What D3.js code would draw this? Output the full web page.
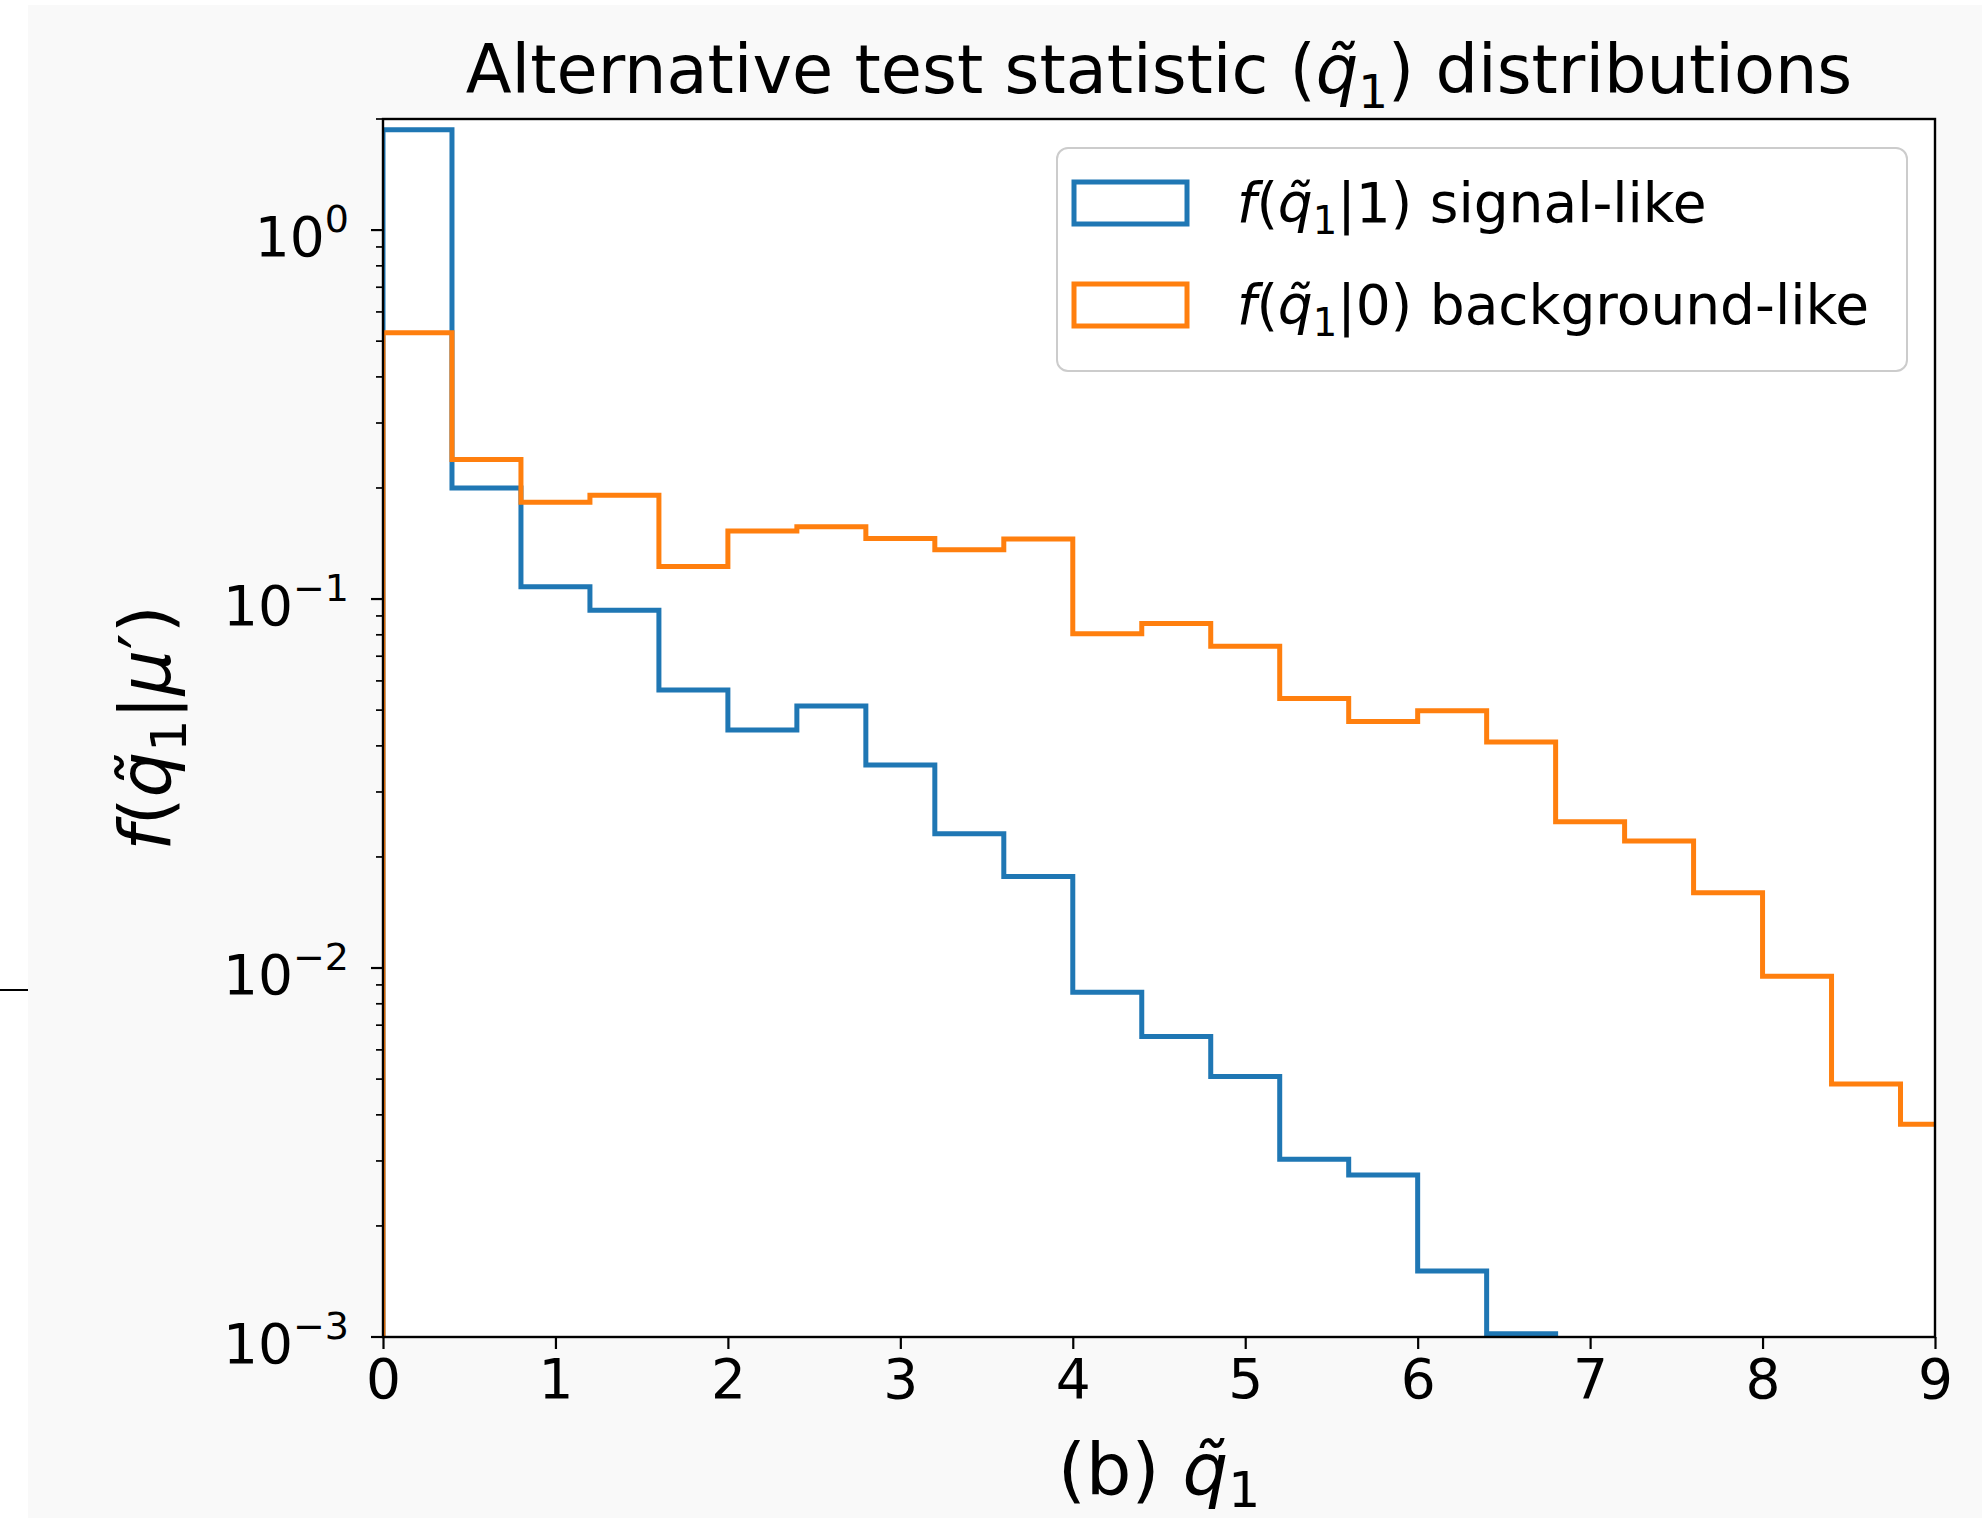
<!DOCTYPE html>
<html>
<head>
<meta charset="utf-8">
<script src="https://cdn.jsdelivr.net/npm/d3@7"></script>
<style>
  html, body { margin: 0; padding: 0; background: #ffffff; }
  svg text { font-family: "DejaVu Sans", sans-serif; fill: #000; }
</style>
</head>
<body>
<div id="chart"></div>
<script>
// histogram bin edges (width 0.4)
const binEdges = [0, 0.4, 0.8, 1.2, 1.6, 2.0, 2.4, 2.8, 3.2, 3.6, 4.0, 4.4, 4.8,
                  5.2, 5.6, 6.0, 6.4, 6.8, 7.2, 7.6, 8.0, 8.4, 8.8, 9.2];

// f(q1|1) signal-like, density per bin
const signalValues = [1.87, 0.200, 0.108, 0.0933, 0.0567, 0.0442, 0.0513, 0.0355, 0.0231,
                      0.0177, 0.0086, 0.00652, 0.00508, 0.00303, 0.00275, 0.00151, 0.00102,
                      0, 0, 0, 0, 0, 0];

// f(q1|0) background-like, density per bin
const backgroundValues = [0.527, 0.239, 0.183, 0.191, 0.1225, 0.153, 0.157, 0.146, 0.136,
                          0.1455, 0.0805, 0.0858, 0.0745, 0.0538, 0.0466, 0.0498, 0.0410,
                          0.0249, 0.0221, 0.0160, 0.0095, 0.00485, 0.00377];

const xTicks = [0, 1, 2, 3, 4, 5, 6, 7, 8, 9];
const yMajorExponents = [0, -1, -2, -3];

const series = [
    { name: "signal", values: signalValues, color: "#1f77b4", cond: "1", label: " signal-like" },
    { name: "background", values: backgroundValues, color: "#ff7f0e", cond: "0", label: " background-like" }
];

const width = 1982;
const height = 1518;
const plot = { left: 383, right: 1935, top: 119, bottom: 1337 };

const svg = d3.select("#chart")
    .append("svg")
    .attr("width", width)
    .attr("height", height);

// figure background
svg.append("rect")
    .attr("x", 28).attr("y", 5)
    .attr("width", width - 28).attr("height", height - 5)
    .attr("fill", "#f9f9f9");

svg.append("line")
    .attr("x1", 0).attr("x2", 28)
    .attr("y1", 990).attr("y2", 990)
    .attr("stroke", "#000").attr("stroke-width", 2);

const x = d3.scaleLinear().domain([0, 9]).range([plot.left, plot.right]);
const y = d3.scaleLog().domain([1e-3, 2]).range([plot.bottom, plot.top]);

// axes area
svg.append("rect")
    .attr("x", plot.left).attr("y", plot.top)
    .attr("width", plot.right - plot.left).attr("height", plot.bottom - plot.top)
    .attr("fill", "#ffffff");

svg.append("defs").append("clipPath").attr("id", "plot-clip")
    .append("rect")
    .attr("x", plot.left).attr("y", plot.top)
    .attr("width", plot.right - plot.left).attr("height", plot.bottom - plot.top);

// step outline for a histogram
function stepPoints(values) {
    const pts = [[binEdges[0], 1e-5]];
    let last = 0;
    values.forEach((v, i) => {
        if (v > 0) {
            pts.push([binEdges[i], v]);
            pts.push([binEdges[i + 1], v]);
            last = i + 1;
        }
    });
    pts.push([binEdges[last], 1e-5]);
    return pts;
}

const line = d3.line()
    .x(d => x(d[0]))
    .y(d => y(d[1]));

svg.append("g")
    .attr("clip-path", "url(#plot-clip)")
    .selectAll("path")
    .data(series)
    .join("path")
    .attr("d", d => line(stepPoints(d.values)))
    .attr("fill", "none")
    .attr("stroke", d => d.color)
    .attr("stroke-width", 5)
    .attr("stroke-linejoin", "miter");

// x axis
const xAxis = svg.append("g")
    .attr("transform", `translate(0, ${plot.bottom})`)
    .call(d3.axisBottom(x).tickValues(xTicks).tickSize(12).tickSizeOuter(0).tickPadding(18));
xAxis.select(".domain").remove();
xAxis.selectAll(".tick line").attr("stroke", "#000").attr("stroke-width", 2.2);
xAxis.selectAll(".tick text")
    .attr("font-size", 55)
    .attr("font-family", "DejaVu Sans")
    .attr("dy", "0.71em")
    .attr("y", 22);

// y axis: minor ticks
const minorTicks = y.ticks().filter(v => Math.abs(Math.log10(v) - Math.round(Math.log10(v))) > 1e-6);
svg.append("g")
    .selectAll("line")
    .data(minorTicks)
    .join("line")
    .attr("x1", plot.left - 7).attr("x2", plot.left)
    .attr("y1", d => y(d)).attr("y2", d => y(d))
    .attr("stroke", "#000").attr("stroke-width", 1.7);

// y axis: major ticks and labels
const yMajor = svg.append("g")
    .selectAll("g")
    .data(yMajorExponents)
    .join("g")
    .attr("transform", d => `translate(0, ${y(Math.pow(10, d))})`);

yMajor.append("line")
    .attr("x1", plot.left - 12).attr("x2", plot.left)
    .attr("stroke", "#000").attr("stroke-width", 2.2);

yMajor.append("text")
    .attr("x", 349)
    .attr("y", 26)
    .attr("text-anchor", "end")
    .attr("font-size", 55)
    .each(function (d) {
        const t = d3.select(this);
        t.append("tspan").text("10");
        t.append("tspan")
            .attr("font-size", 38)
            .attr("dy", -24)
            .text(d === 0 ? "0" : "\u2212" + Math.abs(d));
    });

// spines
svg.append("rect")
    .attr("x", plot.left).attr("y", plot.top)
    .attr("width", plot.right - plot.left).attr("height", plot.bottom - plot.top)
    .attr("fill", "none")
    .attr("stroke", "#000")
    .attr("stroke-width", 2.4);

// math text helper: f(q~1|c)
function mathQ(sel, size, opts) {
    const sub = size * 0.7;
    const drop = size * opts.drop;
    if (opts.f) sel.append("tspan").attr("font-style", "italic").text("f");
    if (opts.open) sel.append("tspan").text("(");
    sel.append("tspan").attr("font-style", "italic").text("q\u0303");
    sel.append("tspan").attr("font-size", sub).attr("dy", drop).text("1");
    return { rise: -drop };
}

// title
const title = svg.append("text")
    .attr("x", (plot.left + plot.right) / 2)
    .attr("y", 93)
    .attr("text-anchor", "middle")
    .attr("font-size", 67);
title.append("tspan").text("Alternative test statistic (");
let m = mathQ(title, 67, { drop: 0.22 });
title.append("tspan").attr("dy", m.rise).text(")");
title.append("tspan").text(" distributions");

// x label
const xLabel = svg.append("text")
    .attr("x", (plot.left + plot.right) / 2)
    .attr("y", 1494)
    .attr("text-anchor", "middle")
    .attr("font-size", 72);
xLabel.append("tspan").text("(b) ");
mathQ(xLabel, 72, { drop: 0.18 });

// y label
const yLabel = svg.append("text")
    .attr("transform", `translate(170, ${(plot.top + plot.bottom) / 2}) rotate(-90)`)
    .attr("text-anchor", "middle")
    .attr("font-size", 72);
m = mathQ(yLabel, 72, { f: true, open: true, drop: 0.22 });
yLabel.append("tspan").attr("dy", m.rise).text("|");
yLabel.append("tspan").attr("font-style", "italic").text("\u03bc");
yLabel.append("tspan").text("\u2032)");

// legend
const legend = svg.append("g").attr("transform", "translate(1057, 148)");
legend.append("rect")
    .attr("width", 850).attr("height", 223)
    .attr("rx", 11).attr("ry", 11)
    .attr("fill", "#ffffff").attr("fill-opacity", 0.8)
    .attr("stroke", "#cccccc").attr("stroke-width", 2);

const rowY = [55, 157];
const items = legend.selectAll("g.item")
    .data(series)
    .join("g")
    .attr("class", "item")
    .attr("transform", (d, i) => `translate(0, ${rowY[i]})`);

items.append("rect")
    .attr("x", 17).attr("y", -21)
    .attr("width", 113).attr("height", 42)
    .attr("fill", "none")
    .attr("stroke", d => d.color)
    .attr("stroke-width", 5);

items.append("text")
    .attr("x", 180)
    .attr("y", 19)
    .attr("font-size", 55)
    .each(function (d) {
        const t = d3.select(this);
        const r = mathQ(t, 55, { f: true, open: true, drop: 0.22 });
        t.append("tspan").attr("dy", r.rise).text("|" + d.cond + ")");
        t.append("tspan").text(d.label);
    });
</script>
</body>
</html>
